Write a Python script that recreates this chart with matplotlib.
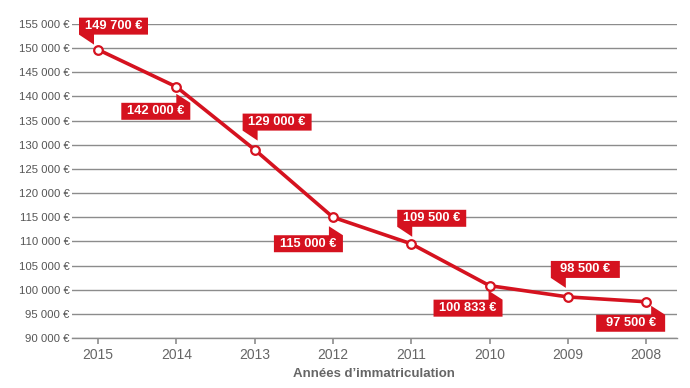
import matplotlib
matplotlib.use("Agg")
import matplotlib.pyplot as plt
import matplotlib.transforms as mtransforms
from matplotlib.patches import Polygon

# ---- data ----
years = ["2015", "2014", "2013", "2012", "2011", "2010", "2009", "2008"]
prices = [149700, 142000, 129000, 115000, 109500, 100833, 98500, 97500]
value_labels = ["149 700 €", "142 000 €", "129 000 €", "115 000 €",
                "109 500 €", "100 833 €", "98 500 €", "97 500 €"]
y_ticks = list(range(90000, 155001, 5000))
x_title = "Années d’immatriculation"

# ---- style ----
RED = "#d5121f"
GRID = "#8c8c8c"
TXT = "#666666"
label_sides = ["BL", "TR", "BL", "TR", "BL", "TR", "BL", "TR"]
tip_gap = [5, 7, 9, 9, 7, 5, 9, 4]      # px between point and tab tip
tip_dx = [-4, 0, 3, -4, 1, -1, -2, 5]   # horizontal tab shift (px)

plt.rcParams["font.family"] = ["Liberation Sans", "DejaVu Sans"]

DPI = 100
fig = plt.figure(figsize=(6.9, 3.88), dpi=DPI)
ax = fig.add_axes([0.1039, 0.1289, 0.8768, 0.8092])

xs = list(range(len(years)))
ax.set_xlim(-0.336, len(years) - 1 + 0.39)
ax.set_ylim(y_ticks[0], y_ticks[-1])

for s in ["top", "right", "left"]:
    ax.spines[s].set_visible(False)
ax.spines["bottom"].set_color(GRID)
ax.spines["bottom"].set_linewidth(1.0)

ax.set_yticks(y_ticks)
ax.set_yticklabels([f"{v:,}".replace(",", " ") + " €" for v in y_ticks])
ax.yaxis.grid(True, color=GRID, linewidth=1.0)
ax.set_axisbelow(True)
ax.tick_params(axis="y", length=0, pad=1.5, labelsize=8.2, labelcolor="#555555")

ax.set_xticks(xs)
ax.set_xticklabels(years)
ax.tick_params(axis="x", length=4.5, width=1.2, color=GRID, pad=3,
               labelsize=10, labelcolor=TXT, direction="out")

ax.set_xlabel(x_title, fontsize=9.5, fontweight="bold", color=TXT, labelpad=4)

ax.plot(xs, prices, color=RED, linewidth=2.6, marker="o", markersize=6.2,
        markerfacecolor="white", markeredgecolor=RED, markeredgewidth=1.6,
        zorder=4, solid_joinstyle="round")

# ---- callout labels ----
BW, BH = 69, 17
TW = 15
for x, y, lab, side, gap, dx in zip(xs, prices, value_labels, label_sides,
                                    tip_gap, tip_dx):
    trans = fig.dpi_scale_trans + mtransforms.ScaledTranslation(x, y, ax.transData)
    if side == "BL":
        tx, ty = dx, gap
        L = tx - TW
        B = ty + 10
        R, T = L + BW, B + BH
        verts = [(L, T), (R, T), (R, B), (tx, B), (tx, ty), (L, B)]
    else:
        tx, ty = dx, -gap
        R = tx + 14
        T = ty - 9
        L, B = R - BW, T - BH
        verts = [(L, T), (tx, T), (tx, ty), (R, T), (R, B), (L, B)]
    verts = [(vx / DPI, vy / DPI) for vx, vy in verts]
    poly = Polygon(verts, closed=True, facecolor=RED, edgecolor="none",
                   transform=trans, clip_on=False, zorder=5)
    ax.add_patch(poly)
    ax.text((L + R) / 2 / DPI, (T + B) / 2 / DPI, lab, transform=trans,
            ha="center", va="center", color="white", fontsize=9.3,
            fontweight="bold", zorder=6, clip_on=False)

fig.savefig("out.png", dpi=DPI)
